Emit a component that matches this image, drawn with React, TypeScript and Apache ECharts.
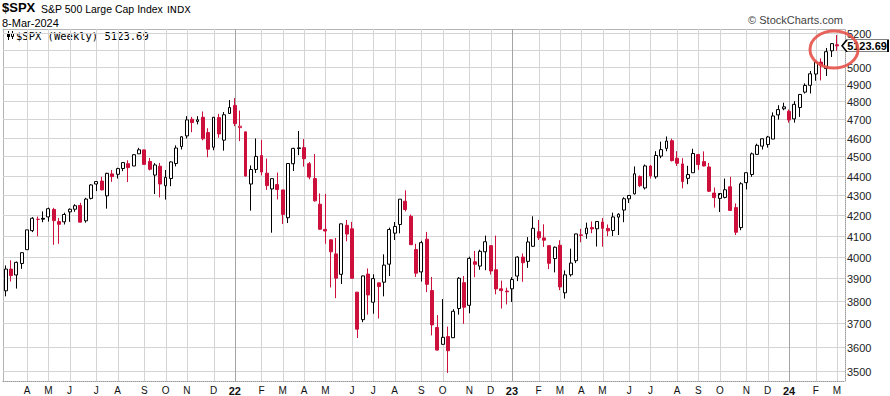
import React, { useEffect, useRef } from 'react';
import * as echarts from 'echarts';

// ---- data (weekly S&P 500, week of 8-Mar-2021 .. week of 4-Mar-2024) ----
const startDate = '2021-03-08';
const mondayHolidays = ['2021-05-31'];
const priorClose = 3841.94;

const opens = [
  3844, 3943, 3916, 3969, 4034, 4125, 4180, 4185, 4192, 4229,
  4169, 4168, 4217, 4230, 4249, 4173, 4284, 4357, 4372, 4297,
  4409, 4407, 4437, 4462, 4450, 4514, 4535, 4474, 4403, 4449,
  4348, 4385, 4463, 4553, 4610, 4701, 4689, 4712, 4628, 4549,
  4710, 4587, 4733,
  4778, 4655, 4632, 4357, 4432, 4505, 4413, 4332, 4354, 4327,
  4188, 4462, 4542, 4547, 4462, 4385, 4255, 4131, 4081, 4014,
  3919, 4151, 4134, 3838, 3716, 3920, 3793, 3880, 3883, 3966,
  4113, 4155, 4270, 4195, 4035, 3930, 4084, 3845, 3682, 3610,
  3643, 3638, 3765, 3881, 3779, 3977, 3957, 4024, 4053, 3940,
  3853, 3843,
  3853, 3911, 3999, 3979, 4050, 4120, 4090, 4053, 3992, 4055,
  3835, 3917, 3982, 4102, 4110, 4140, 4134, 4167, 4136, 4126,
  4191, 4226, 4282, 4307, 4396, 4337, 4450, 4394, 4502, 4543,
  4584, 4491, 4461, 4386, 4415, 4510, 4473, 4445, 4311, 4284,
  4289, 4343, 4238, 4140, 4364, 4406, 4511, 4555, 4564, 4593,
  4725, 4759,
  4745, 4703, 4766, 4853, 4892, 4957, 5027, 4989, 5094, 5130,
];
const highs = [
  3960, 3984, 3978, 4021, 4129, 4191, 4194, 4219, 4238, 4237,
  4187, 4213, 4234, 4255, 4262, 4287, 4356, 4372, 4394, 4415,
  4429, 4441, 4469, 4480, 4513, 4546, 4536, 4492, 4465, 4466,
  4429, 4474, 4559, 4608, 4718, 4714, 4718, 4744, 4652, 4713,
  4731, 4741, 4808,
  4819, 4749, 4632, 4453, 4596, 4589, 4489, 4385, 4416, 4327,
  4465, 4546, 4637, 4593, 4471, 4513, 4309, 4307, 4082, 4090,
  4158, 4177, 4168, 3838, 3913, 3946, 3919, 3880, 4012, 4140,
  4167, 4280, 4325, 4204, 4062, 4076, 4119, 3907, 3736, 3807,
  3686, 3762, 3906, 3911, 4001, 4028, 4034, 4101, 4053, 4101,
  3890, 3858,
  3906, 4003, 4016, 4094, 4195, 4177, 4156, 4053, 4049, 4079,
  3937, 4039, 4110, 4134, 4164, 4170, 4171, 4187, 4155, 4213,
  4210, 4290, 4299, 4448, 4401, 4458, 4456, 4528, 4579, 4607,
  4595, 4528, 4491, 4451, 4541, 4514, 4527, 4466, 4339, 4300,
  4385, 4394, 4259, 4366, 4415, 4521, 4568, 4595, 4610, 4739,
  4779, 4793,
  4755, 4802, 4842, 4903, 4975, 5030, 5049, 5111, 5140, 5189,
];
const lows = [
  3819, 3886, 3854, 3944, 4034, 4118, 4098, 4166, 4169, 4057,
  4062, 4155, 4168, 4217, 4165, 4164, 4279, 4321, 4325, 4233,
  4368, 4385, 4423, 4367, 4450, 4514, 4458, 4427, 4306, 4289,
  4278, 4346, 4448, 4537, 4596, 4630, 4673, 4586, 4496, 4533,
  4600, 4531, 4733,
  4663, 4582, 4395, 4223, 4414, 4401, 4327, 4115, 4279, 4157,
  4162, 4424, 4507, 4447, 4381, 4268, 4129, 4062, 3859, 3811,
  3875, 4074, 3901, 3637, 3705, 3738, 3742, 3721, 3819, 3911,
  4080, 4112, 4219, 4057, 3907, 3886, 3838, 3648, 3584, 3611,
  3491, 3639, 3738, 3698, 3744, 3906, 3940, 3938, 3918, 3828,
  3765, 3783,
  3794, 3888, 3885, 3949, 4048, 4080, 4047, 3943, 3928, 3847,
  3809, 3909, 3971, 4069, 4086, 4113, 4049, 4048, 4098, 4099,
  4104, 4166, 4261, 4304, 4341, 4329, 4385, 4384, 4491, 4528,
  4474, 4450, 4335, 4356, 4415, 4430, 4448, 4316, 4238, 4216,
  4284, 4224, 4104, 4127, 4329, 4394, 4510, 4537, 4547, 4593,
  4699, 4751,
  4682, 4682, 4714, 4845, 4845, 4918, 4920, 4946, 5057, 5094,
];
const closes = [
  3943.34, 3913.10, 3974.54, 4019.87, 4128.80, 4185.47, 4180.17, 4181.17, 4232.60, 4173.85,
  4155.86, 4204.11, 4229.89, 4247.44, 4166.45, 4280.70, 4352.34, 4369.55, 4327.16, 4411.79,
  4395.26, 4436.52, 4468.00, 4441.67, 4509.37, 4535.43, 4458.58, 4432.99, 4455.48, 4357.04,
  4391.34, 4471.37, 4544.90, 4605.38, 4697.53, 4682.85, 4697.96, 4594.62, 4538.43, 4712.02,
  4620.64, 4725.79, 4766.18,
  4677.03, 4662.85, 4397.94, 4431.85, 4500.53, 4418.64, 4348.87, 4384.65, 4328.87, 4204.31,
  4463.12, 4543.06, 4545.86, 4488.28, 4392.59, 4271.78, 4131.93, 4123.34, 4023.89, 3901.36,
  4158.24, 4108.54, 3900.86, 3674.84, 3911.74, 3825.33, 3899.38, 3863.16, 3961.63, 4130.29,
  4145.19, 4280.15, 4228.48, 4057.66, 3924.26, 4067.36, 3873.33, 3693.23, 3585.62, 3639.66,
  3583.07, 3752.75, 3901.06, 3770.55, 3992.93, 3965.34, 4026.12, 4071.70, 3934.38, 3852.36,
  3844.82, 3839.50,
  3895.08, 3999.09, 3972.61, 4070.56, 4136.48, 4090.46, 4079.09, 3970.04, 4045.64, 3861.59,
  3916.64, 3970.99, 4109.31, 4105.02, 4137.64, 4133.52, 4169.48, 4136.25, 4124.08, 4191.98,
  4205.45, 4282.37, 4298.86, 4409.59, 4348.33, 4450.38, 4398.95, 4505.42, 4536.34, 4582.23,
  4478.03, 4464.05, 4369.71, 4405.71, 4515.77, 4457.49, 4450.32, 4320.06, 4288.05, 4308.50,
  4327.78, 4224.16, 4117.37, 4358.34, 4415.24, 4514.02, 4559.34, 4594.63, 4604.37, 4719.19,
  4754.63, 4769.83,
  4697.24, 4783.83, 4839.81, 4890.97, 4958.61, 5026.61, 5005.57, 5088.80, 5137.08, 5123.69,
];

const gridLevels = [3500, 3600, 3700, 3800, 3900, 4000, 4100, 4200, 4300, 4400, 4500, 4600, 4700, 4800, 4900, 5000, 5100, 5200];
const hiddenLevelLabels = [5100];
const monthLetters = ['J', 'F', 'M', 'A', 'M', 'J', 'J', 'A', 'S', 'O', 'N', 'D'];

const FONT = '"Liberation Sans", Arial, Helvetica, sans-serif';
const RED = '#cd0f3c';
const BLACK = '#000000';
const GRID = '#d4d4d4';
const YEAR_GRID = '#a4a4a4';

function buildWeeks() {
  const cats: string[] = [];
  const labels: string[] = [];
  const base = Date.parse(startDate);
  let prevMonth = -1;
  for (let i = 0; i < closes.length; i++) {
    const d = new Date(base + i * 7 * 86400000);
    const iso = d.toISOString().slice(0, 10);
    cats.push(iso);
    const first = mondayHolidays.includes(iso) ? new Date(d.getTime() + 86400000) : d;
    const m = first.getUTCMonth();
    if (i > 0 && m !== prevMonth) {
      labels.push(m === 0 ? String(first.getUTCFullYear() % 100).padStart(2, '0') : monthLetters[m]);
    } else {
      labels.push('');
    }
    prevMonth = m;
  }
  cats.push('');
  labels.push('');
  return { cats, labels };
}

export default function App() {
  const ref = useRef<HTMLDivElement>(null);

  useEffect(() => {
    document.body.style.margin = '0';
    if (!ref.current) return;
    const chart = echarts.init(ref.current, undefined, { renderer: 'svg' });
    const { cats, labels } = buildWeeks();
    const last = closes.length - 1;

    const candleData = closes.map((c, i) => {
      const o = opens[i];
      const prev = i === 0 ? priorClose : closes[i - 1];
      const col = c >= prev ? BLACK : RED;
      const fill = c < o ? col : '#ffffff';
      return {
        value: [o, c, lows[i], highs[i]],
        itemStyle: { color: fill, color0: fill, borderColor: col, borderColor0: col },
      };
    });

    const vgridData: number[][] = [];
    labels.forEach((t, i) => {
      if (t !== '') vgridData.push([i, 3500, /\d/.test(t) ? 1 : 0]);
    });

    const option: any = {
      animation: false,
      backgroundColor: '#ffffff',
      grid: { left: 3, top: 29, width: 842, height: 352, containLabel: false, outerBoundsMode: 'none' },
      xAxis: [
        {
          type: 'category',
          data: cats,
          boundaryGap: true,
          axisLine: { show: true, onZero: false, lineStyle: { color: '#9a9a9a', type: 'dotted', width: 1 } },
          axisTick: { show: false },
          splitLine: { show: false },
          axisLabel: {
            interval: (i: number) => labels[i] !== '',
            formatter: (_v: string, i: number) => {
              const t = labels[i];
              return /\d/.test(t) ? `{y|${t}}` : t;
            },
            color: '#111',
            fontSize: 10,
            fontFamily: FONT,
            margin: 4,
            rich: { y: { fontWeight: 'bold', fontSize: 11, fontFamily: FONT, color: '#111' } },
          },
        },
        {
          type: 'value',
          position: 'top',
          min: 0,
          max: 1,
          axisLine: { show: true, onZero: false, lineStyle: { color: '#b4b4b4' } },
          axisTick: { show: false },
          axisLabel: { show: false },
          splitLine: { show: false },
        },
      ],
      yAxis: [
        {
          type: 'log',
          logBase: 10,
          min: 3458,
          max: 5226,
          position: 'right',
          axisLine: { show: true, onZero: false, lineStyle: { color: '#9a9a9a', type: 'dotted' } },
          axisTick: { show: false },
          axisLabel: { show: false },
          splitLine: { show: false },
        },
        {
          type: 'value',
          position: 'left',
          min: 0,
          max: 1,
          axisLine: { show: true, onZero: false, lineStyle: { color: '#b4b4b4' } },
          axisTick: { show: false },
          axisLabel: { show: false },
          splitLine: { show: false },
        },
      ],
      series: [
        {
          type: 'custom',
          name: 'hgrid',
          xAxisIndex: 0,
          yAxisIndex: 0,
          z: 1,
          silent: true,
          clip: false,
          data: gridLevels.map((v) => [0, v]),
          encode: { x: 0, y: 1 },
          renderItem: (params: any, api: any) => {
            const cs = params.coordSys;
            const v = api.value(1);
            const y = Math.round(api.coord([0, v])[1]) + 0.5;
            const children: any[] = [
              {
                type: 'rect',
                shape: { x: cs.x, y: y - 0.5, width: cs.width, height: 1 },
                style: { fill: GRID },
              },
            ];
            if (!hiddenLevelLabels.includes(v)) {
              children.push({
                type: 'text',
                x: cs.x + cs.width + 2,
                y: y,
                style: {
                  text: String(v),
                  fill: '#222',
                  fontSize: 11,
                  fontFamily: FONT,
                  align: 'left',
                  verticalAlign: 'middle',
                },
              });
            }
            return { type: 'group', children };
          },
        },
        {
          type: 'custom',
          name: 'vgrid',
          xAxisIndex: 0,
          yAxisIndex: 0,
          z: 1,
          silent: true,
          clip: false,
          data: vgridData,
          encode: { x: 0, y: 1 },
          renderItem: (params: any, api: any) => {
            const cs = params.coordSys;
            const x = Math.round(api.coord([api.value(0), api.value(1)])[0]);
            const isYear = api.value(2) === 1;
            return {
              type: 'rect',
              shape: { x: x, y: cs.y, width: 1, height: cs.height },
              style: { fill: isYear ? YEAR_GRID : GRID },
            };
          },
        },
        {
          type: 'candlestick',
          name: '$SPX',
          xAxisIndex: 0,
          yAxisIndex: 0,
          z: 3,
          barWidth: 3.4,
          itemStyle: { color: '#ffffff', color0: RED, borderColor: BLACK, borderColor0: RED, borderWidth: 1 },
          data: candleData,
          markPoint: {
            silent: true,
            symbol: 'path://M0,6 L5,0 L47,0 L47,12 L5,12 Z',
            symbolSize: [46, 12],
            symbolOffset: [28, 0],
            itemStyle: { color: '#ffffff', borderColor: '#000000', borderWidth: 1 },
            label: {
              show: true,
              position: 'inside',
              offset: [2, 0],
              formatter: () => closes[last].toFixed(2),
              color: '#000',
              fontWeight: 'bold',
              fontSize: 11,
              fontFamily: FONT,
            },
            data: [{ coord: [cats[last], closes[last]], value: closes[last] }],
          },
        },
      ],
      graphic: [
        { type: 'text', x: 2, y: 7.5, style: { text: '$SPX', fontSize: 13, fontWeight: 'bold', fontFamily: FONT, fill: '#000', verticalAlign: 'middle' } },
        { type: 'text', x: 41, y: 8.5, style: { text: 'S&P 500 Large Cap Index', fontSize: 10.5, fontFamily: FONT, fill: '#000', verticalAlign: 'middle' } },
        { type: 'text', x: 167, y: 9, style: { text: 'INDX', fontSize: 9.5, fontFamily: '"DejaVu Sans", Verdana, sans-serif', fill: '#000', verticalAlign: 'middle' } },
        { type: 'text', x: 2, y: 23, style: { text: '8-Mar-2024', fontSize: 11, fontFamily: FONT, fill: '#000', verticalAlign: 'middle' } },
        { type: 'text', x: 843, y: 20, style: { text: '© StockCharts.com', fontSize: 11, fontFamily: FONT, fill: '#444', align: 'right', verticalAlign: 'middle' } },
        { type: 'text', x: 16, y: 35.5, style: { text: '$SPX (Weekly) 5123.69', fontSize: 10.5, fontFamily: '"DejaVu Sans Mono", "Liberation Mono", monospace', fill: '#000', verticalAlign: 'middle' } },
        { type: 'line', shape: { x1: 8.5, y1: 31, x2: 8.5, y2: 40 }, style: { stroke: '#000', lineWidth: 1 } },
        { type: 'rect', shape: { x: 7, y: 33, width: 3, height: 4 }, style: { fill: '#000' } },
        { type: 'line', shape: { x1: 12.5, y1: 31, x2: 12.5, y2: 39 }, style: { stroke: '#000', lineWidth: 1 } },
        { type: 'rect', shape: { x: 11.5, y: 33.5, width: 2, height: 3 }, style: { fill: '#fff', stroke: '#000', lineWidth: 1 } },
        {
          type: 'ellipse',
          z: 100,
          shape: { cx: 834, cy: 49.5, rx: 24, ry: 18.5 },
          style: { fill: 'none', stroke: '#e5524a', lineWidth: 3, opacity: 0.9 },
        },
      ],
    };

    chart.setOption(option);
    return () => chart.dispose();
  }, []);

  return <div ref={ref} style={{ width: 890, height: 396 }} />;
}
